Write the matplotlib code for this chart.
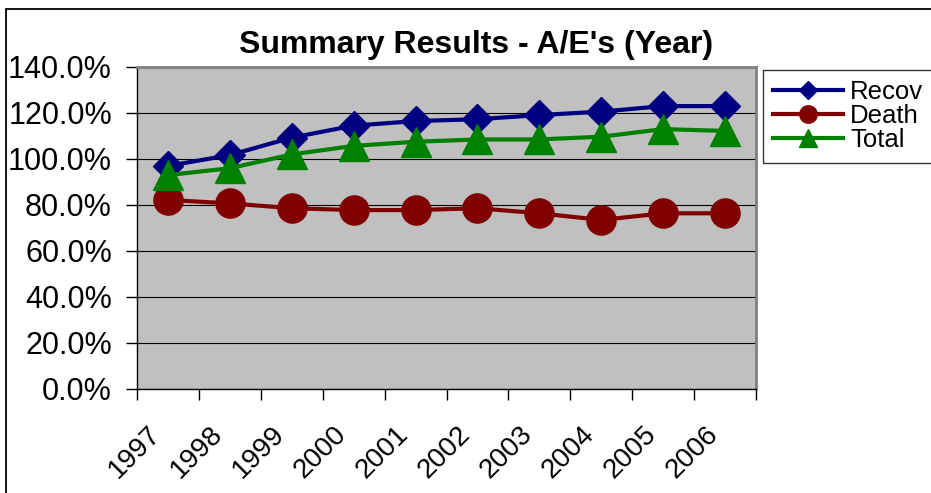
import numpy as np
import matplotlib
matplotlib.use('Agg')
import matplotlib.pyplot as plt
import matplotlib.transforms as mtransforms
from matplotlib.patches import Rectangle

plt.rcParams['font.family'] = ['Liberation Sans', 'DejaVu Sans']

years = ['1997', '1998', '1999', '2000', '2001', '2002', '2003', '2004', '2005', '2006']
recov = [97.0, 101.7, 109.3, 114.5, 116.5, 117.3, 119.1, 120.6, 123.0, 123.0]
death = [82.2, 80.7, 78.6, 77.8, 77.8, 78.6, 76.4, 73.5, 76.4, 76.4]
total = [93.0, 96.0, 102.0, 105.7, 107.5, 108.5, 108.5, 109.7, 113.0, 112.2]
yticks = [0, 20, 40, 60, 80, 100, 120, 140]

W, H = 931, 493
fig = plt.figure(figsize=(W / 100, H / 100), dpi=100)
ax = fig.add_axes([137 / W, 1 - 389 / H, (756 - 137) / W, (389 - 67) / H])
ax.set_facecolor('#C0C0C0')

x = np.arange(len(years))
ax.plot(x, recov, color='#000080', lw=3, marker='D', ms=15.5, label='Recov', zorder=3)
ax.plot(x, death, color='#800000', lw=3, marker='o', ms=21, label='Death', zorder=3)
ax.plot(x, total, color='#008000', lw=3, marker='^', ms=22, label='Total', zorder=3)

ax.set_xlim(-0.5, len(years) - 0.5)
ax.set_ylim(0, 140)
ax.set_yticks(yticks)
ax.set_yticklabels([f'{v:.1f}%' for v in yticks], fontsize=22)
ax.grid(axis='y', color='black', lw=0.8)
ax.set_axisbelow(True)

# category boundaries carry the tick marks, centers carry the labels
ax.set_xticks(np.arange(len(years) + 1) - 0.5)
ax.set_xticklabels([])
ax.set_xticks(x, minor=True)
ax.set_xticklabels(years, minor=True, fontsize=20, rotation=45,
                   ha='right', va='top', rotation_mode='anchor')
ax.tick_params(axis='x', which='major', direction='out', length=8, width=1)
ax.tick_params(axis='x', which='minor', length=0, pad=23.3)
ax.tick_params(axis='y', direction='out', length=8, width=1, pad=10)
off = mtransforms.ScaledTranslation(-0.20, 0, fig.dpi_scale_trans)
for lab in ax.get_xticklabels(minor=True):
    lab.set_transform(lab.get_transform() + off)

for side in ['left', 'bottom']:
    ax.spines[side].set_color('black')
    ax.spines[side].set_linewidth(1)
for side in ['top', 'right']:
    ax.spines[side].set_color('#808080')
    ax.spines[side].set_linewidth(2)

fig.text(476 / W, 1 - 45 / H, "Summary Results - A/E's (Year)", fontsize=23,
         fontweight='bold', ha='center', va='center')

leg = fig.legend(loc='upper left', bbox_to_anchor=(763 / W, 1 - 70 / H),
                 fontsize=18.5, markerscale=0.6, handlelength=2.7,
                 handletextpad=0.3, labelspacing=0.0, borderpad=0.4,
                 borderaxespad=0, frameon=True, fancybox=False)
leg.get_frame().set_edgecolor('black')
leg.get_frame().set_linewidth(1)

fig.patches.append(Rectangle((6 / W, -0.1), 1.2, 1.1 - 9 / H, transform=fig.transFigure,
                             fill=False, ec='black', lw=1.3))

fig.savefig('out.png', dpi=100)
